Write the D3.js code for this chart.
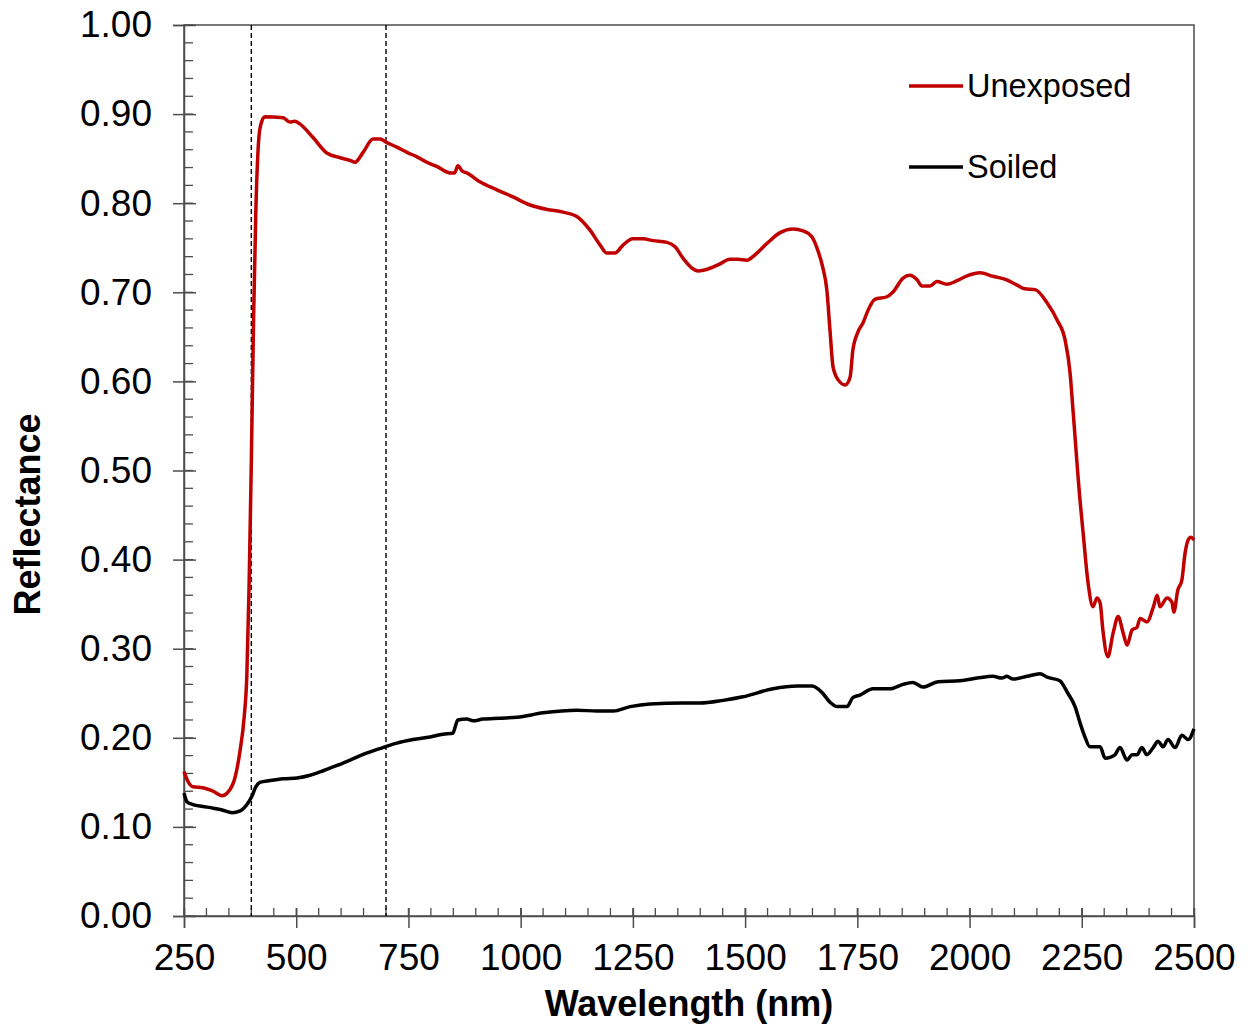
<!DOCTYPE html>
<html>
<head>
<meta charset="utf-8">
<script src="https://cdn.jsdelivr.net/npm/d3@7"></script>
<style>
  body { margin: 0; background: #fff; }
  svg text { font-family: "Liberation Sans", Arial, sans-serif; }
</style>
</head>
<body>
<svg id="chart" width="1251" height="1028"></svg>
<script>
// wavelength (nm) and reflectance
var unexposedNm = [250,257,270,292,315,335,348,364,375,384,
  390,395,400,405,410,415,420,430,471,486,
  497,508,537,569,598,620,631,649,671,687,
  702,724,747,769,791,814,843,853,860,870,
  880,909,947,983,1021,1059,1094,1125,1154,1177,
  1192,1210,1228,1250,1273,1295,1326,1344,1362,1382,
  1395,1422,1444,1466,1484,1504,1522,1549,1578,1607,
  1629,1649,1662,1673,1682,1689,1696,1707,1723,1734,
  1740,1751,1763,1774,1789,1816,1829,1852,1867,1883,
  1894,1912,1927,1950,1972,1997,2023,2052,2083,2106,
  2123,2146,2173,2195,2213,2224,2230,2246,2253,2264,
  2275,2284,2291,2297,2308,2320,2331,2342,2351,2362,
  2373,2380,2395,2409,2418,2424,2440,2451,2455,2464,
  2473,2480,2487,2493,2500];
var unexposedR = [.162,.153,.145,.144,.140,.135,.139,.156,.186,.223,
  .27,.37,.51,.67,.79,.86,.886,.897,.896,.891,
  .892,.889,.874,.856,.851,.848,.846,.857,.872,.872,
  .868,.863,.857,.852,.846,.841,.834,.834,.842,.836,
  .834,.824,.815,.807,.798,.793,.790,.785,.770,.753,
  .744,.744,.753,.760,.760,.758,.756,.751,.738,.727,
  .724,.727,.732,.737,.737,.736,.742,.755,.767,.771,
  .769,.762,.747,.728,.703,.658,.616,.602,.596,.605,
  .635,.655,.666,.680,.692,.695,.700,.716,.719,.714,
  .707,.707,.712,.709,.713,.719,.722,.718,.714,.708,
  .704,.703,.688,.669,.646,.609,.571,.467,.430,.374,
  .347,.357,.351,.321,.291,.318,.336,.318,.304,.321,
  .324,.334,.330,.346,.360,.347,.357,.352,.341,.366,
  .377,.407,.422,.425,.422];

var soiledNm = [250,257,270,292,315,335,357,375,390,401,
  410,419,442,471,502,531,560,591,620,658,
  693,724,760,798,827,849,854,860,880,894,
  916,952,992,1050,1125,1170,1206,1244,1288,1362,
  1399,1451,1495,1562,1616,1649,1671,1689,1705,1727,
  1740,1756,1785,1823,1852,1874,1896,1930,1979,2017,
  2052,2072,2083,2097,2128,2157,2173,2201,2219,2235,
  2246,2257,2268,2291,2302,2313,2324,2335,2351,2362,
  2373,2384,2395,2409,2420,2431,2442,2458,2473,2487,
  2500];
var soiledR = [.138,.128,.125,.123,.121,.119,.116,.118,.125,.134,
  .145,.150,.152,.154,.155,.158,.163,.169,.175,.183,
  .189,.194,.198,.201,.204,.205,.212,.220,.221,.219,
  .221,.222,.223,.228,.231,.230,.230,.235,.238,.239,
  .239,.242,.246,.255,.258,.258,.251,.240,.235,.235,
  .245,.248,.255,.255,.260,.262,.257,.263,.264,.267,
  .269,.267,.269,.266,.269,.272,.268,.264,.250,.235,
  .217,.201,.190,.190,.177,.178,.181,.189,.175,.181,
  .181,.189,.181,.189,.196,.190,.198,.189,.203,.198,
  .210];

var xTicks = [250,500,750,1000,1250,1500,1750,2000,2250,2500];
var yTicks = [0,.1,.2,.3,.4,.5,.6,.7,.8,.9,1];
var markerNm = [400, 700];
var seriesNames = ["Unexposed", "Soiled"];
var seriesColors = ["#c00000", "#000000"];

var svg = d3.select("#chart");
var plotLeft = 184, plotRight = 1194, plotTop = 25, plotBottom = 916;
var axisColor = "#4d4d4d";

var x = d3.scaleLinear().domain([250, 2500]).range([plotLeft, plotRight]);
var y = d3.scaleLinear().domain([0, 1]).range([plotBottom, plotTop]);

// frame
svg.append("rect")
    .attr("x", plotLeft).attr("y", plotTop)
    .attr("width", plotRight - plotLeft).attr("height", plotBottom - plotTop)
    .attr("fill", "none").attr("stroke", axisColor).attr("stroke-width", 1.5);

// minor ticks (inside)
var xMinor = d3.range(250, 2501, 50);
svg.append("g").selectAll("line").data(xMinor).enter().append("line")
    .attr("x1", function(d){ return x(d); }).attr("x2", function(d){ return x(d); })
    .attr("y1", plotBottom).attr("y2", plotBottom - 8)
    .attr("stroke", axisColor).attr("stroke-width", 1.3);
var yMinor = d3.range(0, 51).map(function(i){ return i * 0.02; });
svg.append("g").selectAll("line").data(yMinor).enter().append("line")
    .attr("x1", plotLeft).attr("x2", plotLeft + 9)
    .attr("y1", function(d){ return y(d); }).attr("y2", function(d){ return y(d); })
    .attr("stroke", axisColor).attr("stroke-width", 1.3);

// x axis
var xAxis = svg.append("g")
    .attr("transform", "translate(0," + plotBottom + ")")
    .call(d3.axisBottom(x).tickValues(xTicks).tickSize(12).tickPadding(16)
        .tickFormat(d3.format("d")));
xAxis.select(".domain").attr("stroke", axisColor).attr("stroke-width", 1.5);
xAxis.selectAll(".tick line").attr("y1", -8).attr("stroke", axisColor).attr("stroke-width", 1.5);
xAxis.selectAll(".tick text")
    .attr("font-size", 37).attr("fill", "#000")
    .style("font-family", "'Liberation Sans', Arial, sans-serif");

// y axis
var yAxis = svg.append("g")
    .attr("transform", "translate(" + plotLeft + ",0)")
    .call(d3.axisLeft(y).tickValues(yTicks).tickSize(11).tickPadding(21)
        .tickFormat(d3.format(".2f")));
yAxis.select(".domain").attr("stroke", axisColor).attr("stroke-width", 1.5);
yAxis.selectAll(".tick line").attr("x2", 12).attr("x1", -11).attr("stroke", axisColor).attr("stroke-width", 1.5);
yAxis.selectAll(".tick text")
    .attr("font-size", 37).attr("fill", "#000")
    .style("font-family", "'Liberation Sans', Arial, sans-serif");

// dashed markers
svg.append("g").selectAll("line").data(markerNm).enter().append("line")
    .attr("x1", function(d){ return x(d); }).attr("x2", function(d){ return x(d); })
    .attr("y1", plotTop).attr("y2", plotBottom)
    .attr("stroke", "#000").attr("stroke-width", 1.4)
    .attr("stroke-dasharray", "5,3");

// series
var line = d3.line()
    .x(function(d){ return x(d[0]); })
    .y(function(d){ return y(d[1]); })
    .curve(d3.curveMonotoneX);

var series = [d3.zip(unexposedNm, unexposedR), d3.zip(soiledNm, soiledR)];
series.slice().reverse().forEach(function(s, i){
    var idx = series.length - 1 - i;
    svg.append("path")
        .datum(s)
        .attr("d", line)
        .attr("fill", "none")
        .attr("stroke", seriesColors[idx])
        .attr("stroke-width", 3.5)
        .attr("stroke-linejoin", "round");
});

// legend
var legend = svg.append("g");
seriesNames.forEach(function(name, i){
    var ly = 86 + i * 81;
    legend.append("line")
        .attr("x1", 909).attr("x2", 963).attr("y1", ly).attr("y2", ly)
        .attr("stroke", seriesColors[i]).attr("stroke-width", 3.5);
    legend.append("text")
        .attr("x", 967).attr("y", ly + 11)
        .attr("font-size", 32.5)
        .text(name);
});

// axis titles
svg.append("text")
    .attr("x", (plotLeft + plotRight) / 2).attr("y", 1016)
    .attr("text-anchor", "middle")
    .attr("font-size", 36).attr("font-weight", "bold")
    .text("Wavelength (nm)");

svg.append("text")
    .attr("transform", "translate(40," + ((plotTop + plotBottom) / 2 + 44) + ") rotate(-90)")
    .attr("text-anchor", "middle")
    .attr("font-size", 36).attr("font-weight", "bold")
    .text("Reflectance");
</script>
</body>
</html>
